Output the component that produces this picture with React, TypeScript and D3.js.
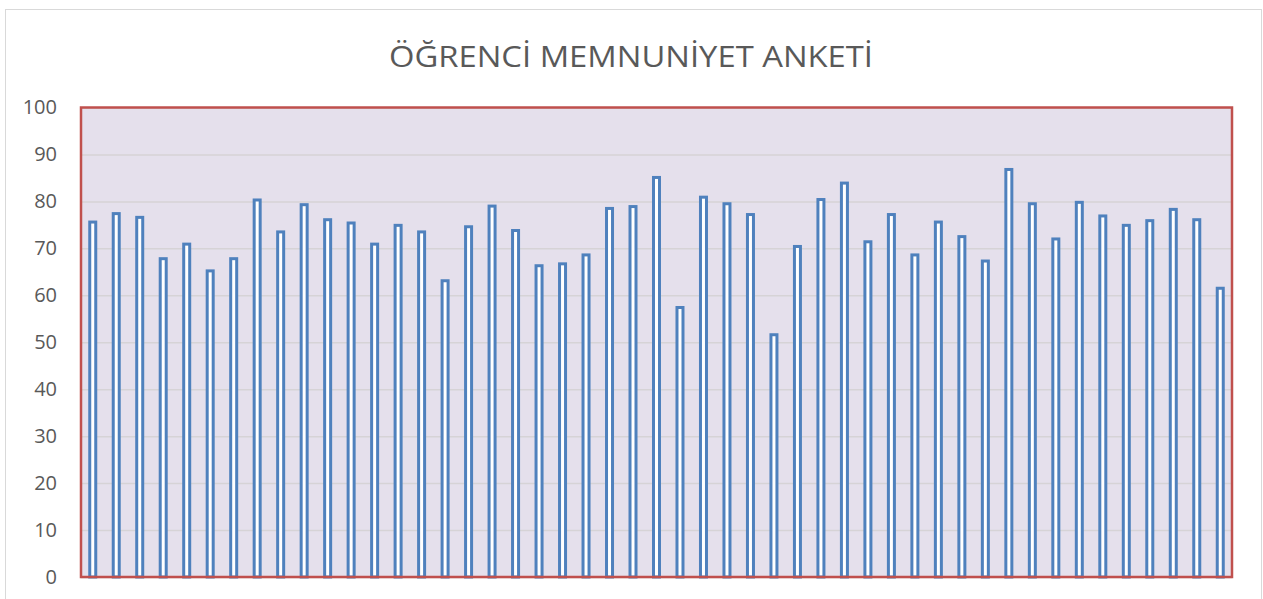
import React, { useEffect, useRef } from 'react'
import * as d3 from 'd3'

const title = 'ÖĞRENCİ MEMNUNİYET ANKETİ'
const yTicks = [0, 10, 20, 30, 40, 50, 60, 70, 80, 90, 100]
const scores = [
  75.6, 77.4, 76.6, 67.8, 70.9, 65.2, 67.8, 80.3, 73.5, 79.3,
  76.1, 75.4, 70.9, 74.9, 73.5, 63.1, 74.6, 79.0, 73.8, 66.3,
  66.7, 68.6, 78.5, 78.9, 85.1, 57.4, 80.9, 79.5, 77.2, 51.6,
  70.4, 80.4, 83.9, 71.4, 77.2, 68.6, 75.6, 72.5, 67.3, 86.8,
  79.5, 72.0, 79.8, 76.9, 74.9, 75.9, 78.3, 76.1, 61.5,
]
const questions = scores.map((_, i) => `S${i + 1}`)

const W = 1263
const H = 599

export default function App() {
  const ref = useRef<SVGSVGElement>(null)

  useEffect(() => {
    const svg = d3.select(ref.current)
    svg.selectAll('*').remove()

    const left = 81
    const right = 1232
    const top = 107.5
    const bottom = 577

    // outer chart frame
    svg.append('rect')
      .attr('x', 5.5).attr('y', 9.5)
      .attr('width', 1256).attr('height', 600)
      .attr('fill', '#fff').attr('stroke', '#d9d9d9')

    svg.append('text')
      .attr('x', 631).attr('y', 67)
      .attr('text-anchor', 'middle')
      .attr('font-family', 'Open Sans')
      .attr('font-size', 30)
      .attr('fill', '#595959')
      .attr('textLength', 484)
      .attr('lengthAdjust', 'spacingAndGlyphs')
      .text(title)

    const x = d3.scaleBand().domain(questions).range([left, right]).padding(0)
    const y = d3.scaleLinear().domain([0, 100]).range([bottom, top])

    svg.append('rect')
      .attr('x', left).attr('y', top)
      .attr('width', right - left).attr('height', bottom - top)
      .attr('fill', '#e5e0ec')

    const grid = svg.append('g')
      .attr('transform', `translate(${left},0)`)
      .call(d3.axisLeft(y).tickValues(yTicks).tickSize(-(right - left)).tickFormat(() => ''))
    grid.select('.domain').remove()
    grid.selectAll('line').attr('stroke', '#d6d3d6').attr('stroke-width', 1.5)

    const axis = svg.append('g')
      .attr('transform', `translate(${left},0)`)
      .call(d3.axisLeft(y).tickValues(yTicks).tickSize(0).tickPadding(24))
    axis.select('.domain').remove()
    axis.selectAll('text')
      .attr('font-family', 'Open Sans')
      .attr('font-size', 20)
      .attr('fill', '#595959')

    const bw = 6
    svg.append('g')
      .selectAll('rect')
      .data(scores)
      .enter()
      .append('rect')
      .attr('x', (_, i) => x(questions[i])! + x.bandwidth() / 2 - bw / 2)
      .attr('y', (d) => y(d))
      .attr('width', bw)
      .attr('height', (d) => bottom - y(d))
      .attr('fill', '#fff')
      .attr('stroke', '#4f81bd')
      .attr('stroke-width', 3)

    svg.append('rect')
      .attr('x', left).attr('y', top)
      .attr('width', right - left).attr('height', bottom - top)
      .attr('fill', 'none')
      .attr('stroke', '#c0504d')
      .attr('stroke-width', 2.5)
  }, [])

  return (
    <svg
      ref={ref}
      width={W}
      height={H}
      style={{ position: 'absolute', left: 0, top: 0, background: '#fff' }}
    />
  )
}
